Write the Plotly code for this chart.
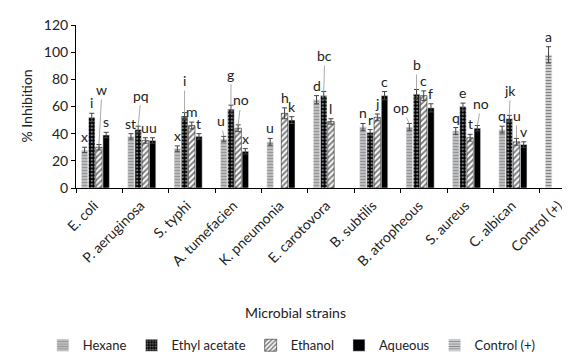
import plotly.graph_objects as go

categories = ["E. coli", "P. aeruginosa", "S. typhi", "A. tumefacien", "K. pneumonia",
              "E. carotovora", "B. subtilis", "B. atropheous", "S. aureus", "C. albican", "Control (+)"]

hexane = [28, 38, 29, 36, 34, 65, 45, 45, 42, 43, None]
ethyl = [52, 43, 53, 58, None, 68, 41, 69, 60, 51, None]
ethanol = [30, 35, 46, 44, 55, 49, 52, 68, 37, 34, None]
aqueous = [39, 35, 38, 27, 50, None, 68, 59, 44, 32, None]
control = [None, None, None, None, None, None, None, None, None, None, 98]

hexane_err = [2, 2, 2, 2, 2.5, 3, 2.5, 2.5, 2.5, 2.5, None]
ethyl_err = [3, 2.5, 2.5, 3, None, 3, 2, 3.5, 2.5, 2.5, None]
ethanol_err = [2, 2, 2.5, 2.5, 4, 2, 2.5, 3.5, 2.5, 2.5, None]
aqueous_err = [2, 2, 2, 2, 2.5, None, 3, 3, 2, 2, None]
control_err = [None, None, None, None, None, None, None, None, None, None, 6]

hexane_lbl = ["x", "st", "x", "u", "u", "d", "n", "op", "q", "q", None]
ethyl_lbl = ["i", "pq", "i", "g", None, "bc", "r", "b", "e", "jk", None]
ethanol_lbl = ["w", "u", "m", "no", "h", "l", "j", "c", "t", "u", None]
aqueous_lbl = ["s", "u", "t", "x", "k", None, "c", "f", "no", "v", None]
control_lbl = [None, None, None, None, None, None, None, None, None, None, "a"]

x_title = "Microbial strains"
y_title = "% Inhibition"

# style: bar slot offsets (category units)
W = 0.14
series = [
    ("Hexane", hexane, hexane_err, hexane_lbl, -0.385,
     dict(color="#aaaaaa", pattern=dict(shape="-", fgcolor="#666666", bgcolor="#c4c4c4", size=3, solidity=0.45))),
    ("Ethyl acetate", ethyl, ethyl_err, ethyl_lbl, -0.23,
     dict(color="black", pattern=dict(shape=".", fgcolor="white", bgcolor="black", size=3.5, solidity=0.35))),
    ("Ethanol", ethanol, ethanol_err, ethanol_lbl, -0.075,
     dict(color="white", line=dict(color="black", width=0.5),
          pattern=dict(shape="/", fgcolor="black", bgcolor="white", size=4, solidity=0.5))),
    ("Aqueous", aqueous, aqueous_err, aqueous_lbl, 0.08, dict(color="black")),
    ("Control (+)", control, control_err, control_lbl, -0.385,
     dict(color="#222222", pattern=dict(shape="-", fgcolor="#111111", bgcolor="#f2f2f2", size=3, solidity=0.55))),
]

# leader-line label offsets in pixels (ax, ay), keyed by (category index, series index)
leaders = {(0, 2): (3, -55), (1, 1): (3, -31), (2, 1): (0, -32), (3, 0): (-3, -16),
           (3, 1): (0, -31), (3, 2): (3, -25), (5, 1): (1, -36), (7, 0): (-8, -16),
           (7, 1): (0, -25), (8, 3): (4, -22), (9, 1): (1, -25), (9, 2): (0, -23)}

fig = go.Figure()
annotations = []
for si, (name, vals, errs, lbls, off, marker) in enumerate(series):
    fig.add_trace(go.Bar(
        name=name, x=categories, y=vals, offset=off, width=W, marker=marker,
        error_y=dict(type="data", array=errs, visible=True, color="#444444", thickness=1, width=2.5),
    ))
    for ci, (v, e, t) in enumerate(zip(vals, errs, lbls)):
        if v is None or t is None:
            continue
        xc = ci + off + W / 2
        top = v + (e or 0)
        if (ci, si) in leaders:
            ax, ay = leaders[(ci, si)]
            annotations.append(dict(x=xc, y=top, xref="x", yref="y", text=t, showarrow=True,
                                    ax=ax, ay=ay, arrowhead=0, arrowwidth=1, arrowcolor="#aaaaaa",
                                    standoff=0, font=dict(size=14, color="#222222")))
        else:
            annotations.append(dict(x=xc, y=top, xref="x", yref="y", text=t, showarrow=False,
                                    yanchor="bottom", yshift=0, font=dict(size=14, color="#222222")))

annotations.append(dict(text=y_title, xref="paper", yref="paper", x=0, y=0.5, xshift=-50,
                        xanchor="center", yanchor="middle", textangle=-90, showarrow=False,
                        font=dict(size=14, color="#222222")))
annotations.append(dict(text=x_title, xref="paper", yref="paper", x=0.438, y=-0.761,
                        xanchor="center", yanchor="middle", showarrow=False,
                        font=dict(size=14, color="#222222")))

fig.update_layout(
    width=570, height=354,
    margin=dict(l=68, r=0, t=17, b=173.5, autoexpand=False),
    barmode="overlay",
    plot_bgcolor="white", paper_bgcolor="white",
    font=dict(family="Lato, Open Sans, sans-serif", size=13, color="#222222"),
    annotations=annotations,
    legend=dict(orientation="h", x=0.43, xanchor="center", y=-0.965, yanchor="middle",
                font=dict(size=13), itemwidth=30, tracegroupgap=0),
    xaxis=dict(type="category", range=[-0.5, 10.32], showline=True, linecolor="black", linewidth=1,
               ticks="outside", tickson="boundaries", ticklen=4, tickcolor="black",
               tickangle=-45, tickfont=dict(size=14), showgrid=False, automargin=False,
               ticklabelshift=-5, ticklabelstandoff=3),
    yaxis=dict(range=[0, 120], dtick=20, showline=True, linecolor="black", linewidth=1,
               ticks="outside", ticklen=4, tickcolor="black", showgrid=False, zeroline=False,
               tickfont=dict(size=14), automargin=False),
)

fig.write_html("out.html")
